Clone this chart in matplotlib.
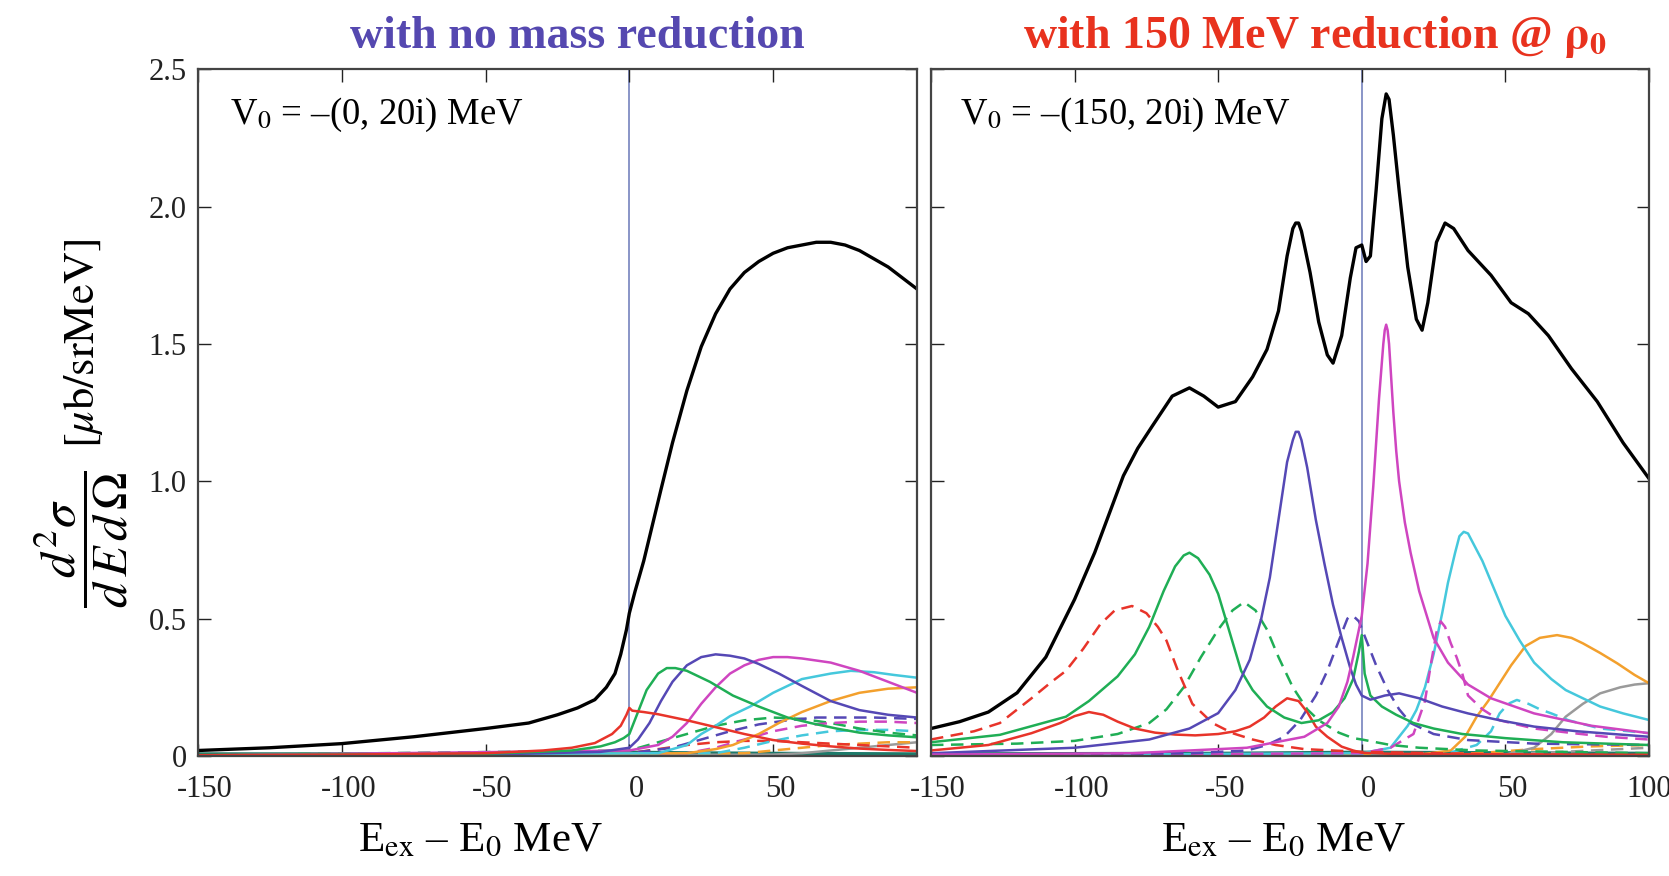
import matplotlib

matplotlib.use("Agg")

import matplotlib.pyplot as plt
from matplotlib.transforms import ScaledTranslation

# ---- left panel: V0 = -(0, 20i) MeV, no mass reduction ----
left_total_x = [-150, -125, -100, -75, -50, -35, -25, -18, -12, -8, -5, -3, -1, 0, 2, 5, 8, 11, 15,
                20, 25, 30, 35, 40, 45, 50, 55, 60, 65, 70, 75, 80, 85, 90, 95, 100]
left_total_y = [0.02, 0.03, 0.045, 0.07, 0.10, 0.12, 0.15, 0.175, 0.205, 0.25, 0.30, 0.37, 0.46, 0.52,
                0.60, 0.71, 0.84, 0.97, 1.14, 1.33, 1.49, 1.61, 1.70, 1.76, 1.80, 1.83, 1.85, 1.86,
                1.87, 1.87, 1.86, 1.84, 1.81, 1.78, 1.74, 1.70]

left_red_x = [-150, -100, -50, -30, -20, -12, -6, -3, -1, 0, 1, 5, 10, 20, 30, 40, 50, 60, 70, 80, 90, 100]
left_red_y = [0.003, 0.005, 0.01, 0.02, 0.03, 0.047, 0.08, 0.11, 0.15, 0.175, 0.165, 0.16, 0.152, 0.13,
              0.105, 0.08, 0.058, 0.045, 0.035, 0.027, 0.022, 0.018]

left_green_x = [-150, -50, -20, -10, -5, -2, 0, 3, 6, 10, 13, 16, 20, 28, 36, 45, 55, 63, 72, 80, 90, 100]
left_green_y = [0.003, 0.008, 0.02, 0.035, 0.05, 0.065, 0.08, 0.16, 0.24, 0.30, 0.32, 0.32, 0.31, 0.27,
                0.22, 0.18, 0.14, 0.12, 0.10, 0.085, 0.075, 0.068]

left_blue_x = [-150, -50, -10, 0, 3, 7, 11, 15, 20, 25, 30, 35, 40, 45, 52, 60, 70, 80, 90, 100]
left_blue_y = [0.002, 0.005, 0.015, 0.03, 0.06, 0.12, 0.20, 0.27, 0.33, 0.36, 0.37, 0.365, 0.355, 0.335,
               0.30, 0.255, 0.20, 0.167, 0.15, 0.14]

left_magenta_x = [-150, 0, 10, 15, 20, 25, 30, 35, 40, 45, 50, 55, 60, 70, 80, 90, 100]
left_magenta_y = [0.002, 0.02, 0.04, 0.07, 0.12, 0.19, 0.25, 0.30, 0.33, 0.35, 0.36, 0.36, 0.355, 0.34,
                  0.31, 0.27, 0.23]

left_cyan_x = [-150, 10, 20, 25, 30, 35, 42, 50, 60, 70, 77, 85, 92, 100]
left_cyan_y = [0.002, 0.01, 0.04, 0.08, 0.11, 0.145, 0.18, 0.23, 0.28, 0.30, 0.31, 0.305, 0.295, 0.285]

left_orange_x = [-150, 20, 30, 36, 45, 52, 60, 70, 80, 90, 100]
left_orange_y = [0.001, 0.01, 0.025, 0.04, 0.08, 0.12, 0.16, 0.20, 0.23, 0.245, 0.25]

left_gray_x = [-150, 50, 60, 70, 80, 90, 100]
left_gray_y = [0.001, 0.005, 0.01, 0.02, 0.03, 0.04, 0.05]

left_teal_x = [-150, -100, -50, -20, 0, 20, 50, 100]
left_teal_y = [0.006, 0.006, 0.007, 0.009, 0.012, 0.01, 0.008, 0.006]

left_blue_dash_x = [-150, 0, 15, 25, 35, 45, 55, 65, 75, 85, 100]
left_blue_dash_y = [0.002, 0.01, 0.03, 0.06, 0.09, 0.115, 0.13, 0.14, 0.14, 0.14, 0.135]

left_green_dash_x = [-150, 0, 10, 20, 30, 40, 50, 60, 70, 80, 90, 100]
left_green_dash_y = [0.003, 0.02, 0.05, 0.08, 0.11, 0.13, 0.14, 0.135, 0.12, 0.10, 0.085, 0.075]

left_magenta_dash_x = [-150, 20, 30, 40, 50, 60, 70, 80, 90, 100]
left_magenta_dash_y = [0.001, 0.01, 0.03, 0.06, 0.09, 0.11, 0.12, 0.125, 0.125, 0.12]

left_cyan_dash_x = [-150, 30, 40, 50, 60, 70, 80, 90, 100]
left_cyan_dash_y = [0.001, 0.01, 0.03, 0.055, 0.075, 0.09, 0.095, 0.095, 0.09]

left_red_dash_x = [-150, 0, 10, 20, 30, 40, 50, 60, 70, 80, 90, 100]
left_red_dash_y = [0.002, 0.01, 0.025, 0.04, 0.05, 0.055, 0.055, 0.05, 0.045, 0.04, 0.035, 0.03]

left_orange_dash_x = [-150, 40, 50, 60, 70, 80, 90, 100]
left_orange_dash_y = [0.001, 0.01, 0.02, 0.03, 0.04, 0.045, 0.05, 0.05]

# ---- right panel: V0 = -(150, 20i) MeV ----
right_total_x = [-150, -140, -130, -120, -110, -100, -93, -88, -83, -78, -73, -66, -60, -55, -50, -44,
                 -38, -33, -29, -26, -24, -23, -22, -21, -18, -15, -12, -10, -7, -4, -2, 0, 1.5, 3, 5,
                 7, 8.5, 9.5, 11, 13, 16, 19, 21, 23, 26, 29, 32, 37, 45, 52, 58, 65, 73, 82, 91, 100]
right_total_y = [0.10, 0.125, 0.16, 0.23, 0.36, 0.57, 0.74, 0.88, 1.02, 1.12, 1.20, 1.31, 1.34, 1.31,
                 1.27, 1.29, 1.38, 1.48, 1.62, 1.82, 1.92, 1.94, 1.94, 1.91, 1.76, 1.58, 1.46, 1.43,
                 1.53, 1.74, 1.85, 1.86, 1.80, 1.82, 2.06, 2.32, 2.41, 2.39, 2.26, 2.06, 1.78, 1.59,
                 1.55, 1.65, 1.87, 1.94, 1.92, 1.84, 1.75, 1.65, 1.61, 1.53, 1.41, 1.29, 1.14, 1.01]

right_red_dash_x = [-150, -135, -126, -115, -108, -103, -97, -91, -86, -80, -75, -71, -68, -64, -59,
                    -52, -45, -38, -30, -20, -10, 0, 50, 100]
right_red_dash_y = [0.06, 0.09, 0.12, 0.21, 0.27, 0.31, 0.39, 0.48, 0.53, 0.546, 0.52, 0.47, 0.42,
                    0.31, 0.19, 0.12, 0.083, 0.06, 0.04, 0.025, 0.02, 0.015, 0.006, 0.003]

right_green_x = [-150, -126, -103, -95, -85, -79, -74, -69, -65, -62, -60, -57, -53, -50, -46, -42,
                 -38, -33, -27, -21, -15, -10, -6, -3, -1, 0, 1, 3, 7, 12, 18, 25, 35, 50, 70, 100]
right_green_y = [0.05, 0.077, 0.143, 0.20, 0.29, 0.37, 0.47, 0.60, 0.69, 0.73, 0.74, 0.72, 0.66,
                 0.59, 0.45, 0.31, 0.24, 0.18, 0.14, 0.12, 0.13, 0.16, 0.21, 0.28, 0.38, 0.44, 0.30,
                 0.22, 0.18, 0.15, 0.12, 0.10, 0.08, 0.065, 0.05, 0.04]

right_green_dash_x = [-150, -120, -100, -85, -74, -68, -62, -56, -50, -45, -41, -37, -33, -29, -24,
                      -19, -15, -8, -3, 0, 5, 10, 20, 40, 70, 100]
right_green_dash_y = [0.04, 0.045, 0.055, 0.08, 0.12, 0.17, 0.25, 0.36, 0.46, 0.53, 0.56, 0.53, 0.46,
                      0.36, 0.25, 0.17, 0.13, 0.085, 0.065, 0.06, 0.05, 0.04, 0.03, 0.02, 0.015, 0.01]

right_red_x = [-150, -130, -115, -105, -100, -95, -90, -85, -79, -72, -65, -58, -50, -44, -39, -34,
               -30, -26, -22, -19, -16, -12, -7, -3, 0, 10, 40, 100]
right_red_y = [0.02, 0.04, 0.083, 0.12, 0.145, 0.16, 0.15, 0.125, 0.10, 0.085, 0.078, 0.075, 0.08,
               0.09, 0.107, 0.14, 0.18, 0.21, 0.20, 0.16, 0.107, 0.07, 0.034, 0.02, 0.012, 0.008,
               0.006, 0.004]

right_blue_x = [-150, -100, -74, -60, -50, -44, -39, -35, -32, -29, -26, -24, -23, -22, -21, -19, -16,
                -13, -10, -7, -4, -2, 0, 3, 8, 13, 20, 28, 37, 48, 60, 75, 100]
right_blue_y = [0.01, 0.03, 0.06, 0.10, 0.156, 0.24, 0.35, 0.50, 0.65, 0.86, 1.07, 1.15, 1.18, 1.18,
                1.15, 1.05, 0.86, 0.70, 0.55, 0.43, 0.32, 0.26, 0.22, 0.205, 0.22, 0.228, 0.21, 0.18,
                0.155, 0.13, 0.107, 0.09, 0.07]

right_blue_dash_x = [-150, -60, -40, -33, -27, -21.5, -16, -12, -8, -5, -4, -2.5, -1, 2, 5, 9, 13, 17,
                     25, 37, 60, 100]
right_blue_dash_y = [0.003, 0.01, 0.02, 0.04, 0.07, 0.13, 0.22, 0.31, 0.42, 0.50, 0.51, 0.505, 0.49,
                     0.41, 0.33, 0.24, 0.17, 0.12, 0.08, 0.058, 0.045, 0.04]

right_magenta_x = [-150, -80, -40, -20, -12, -8, -5, -3, 0, 2, 4, 6, 7.5, 8, 8.5, 9, 9.5, 11, 12, 13,
                   15, 17, 20, 25, 30, 37, 45, 60, 80, 100]
right_magenta_y = [0.005, 0.01, 0.03, 0.07, 0.12, 0.18, 0.27, 0.36, 0.51, 0.70, 0.98, 1.30, 1.50,
                   1.55, 1.57, 1.55, 1.50, 1.25, 1.11, 1.00, 0.85, 0.74, 0.60, 0.43, 0.34, 0.26, 0.21,
                   0.155, 0.11, 0.083]

right_magenta_dash_x = [-150, 0, 10, 18, 22, 24, 26, 27.5, 29, 31, 33, 35, 37, 42, 48, 60, 72, 85, 100]
right_magenta_dash_y = [0.002, 0.01, 0.03, 0.08, 0.20, 0.33, 0.45, 0.49, 0.47, 0.41, 0.36, 0.30, 0.22,
                        0.17, 0.13, 0.10, 0.085, 0.07, 0.06]

right_cyan_x = [-150, 0, 10, 13, 16, 19, 22, 25, 28, 30, 32.5, 34, 35.5, 37, 38, 42, 46, 50, 55, 60,
                66, 71, 77, 83, 91, 100]
right_cyan_y = [0.002, 0.01, 0.03, 0.07, 0.11, 0.167, 0.25, 0.37, 0.52, 0.63, 0.74, 0.80, 0.816, 0.81,
                0.79, 0.71, 0.61, 0.51, 0.42, 0.34, 0.28, 0.24, 0.21, 0.18, 0.155, 0.131]

right_cyan_dash_x = [-150, 30, 40, 45, 48, 51, 54, 58, 62, 66, 72, 83, 100]
right_cyan_dash_y = [0.001, 0.01, 0.04, 0.09, 0.155, 0.19, 0.204, 0.19, 0.17, 0.155, 0.13, 0.10, 0.083]

right_orange_x = [-150, 20, 31, 36, 40, 44, 48, 52, 57, 62, 68, 73, 77, 83, 89, 95, 100]
right_orange_y = [0.001, 0.005, 0.02, 0.07, 0.143, 0.20, 0.265, 0.33, 0.40, 0.43, 0.44, 0.43, 0.41,
                  0.375, 0.337, 0.295, 0.265]

right_gray_x = [-150, 50, 60, 66, 71, 77, 83, 90, 95, 100]
right_gray_y = [0.001, 0.005, 0.03, 0.08, 0.143, 0.19, 0.228, 0.25, 0.26, 0.265]

right_orange_dash_x = [-150, 40, 60, 80, 100]
right_orange_dash_y = [0.001, 0.01, 0.025, 0.035, 0.04]

right_gray_dash_x = [-150, 60, 80, 100]
right_gray_dash_y = [0.001, 0.01, 0.02, 0.03]

right_teal_x = [-150, -100, -50, 0, 50, 100]
right_teal_y = [0.006, 0.007, 0.008, 0.012, 0.01, 0.008]

x_ticks = [-150, -100, -50, 0, 50, 100]
y_ticks = [0, 0.5, 1.0, 1.5, 2.0, 2.5]
y_tick_labels = ["0", "0.5", "1.0", "1.5", "2.0", "2.5"]

RED = "#e8342a"
GREEN = "#1fae55"
BLUE = "#5548b5"
MAGENTA = "#cf45c0"
CYAN = "#45c8dc"
ORANGE = "#f3a02d"
GRAY = "#9a9a9a"
TEAL = "#1d7a6a"
THRESHOLD = "#6a78b8"
DASH = (0, (5, 3))


def style_axes(ax, tick_values):
    ax.set_xlim(-150, 100)
    ax.set_ylim(0, 2.5)
    ax.set_xticks(tick_values)
    ax.set_xticklabels([str(v) for v in tick_values])
    ax.set_yticks(y_ticks)
    ax.tick_params(direction="in", top=True, right=True, length=9, width=1.0,
                   labelsize=22, colors="#222222")
    ax.tick_params(axis="x", pad=14)
    ax.tick_params(axis="y", pad=8)
    for spine in ax.spines.values():
        spine.set_linewidth(1.6)
        spine.set_color("#444444")
    ax.axvline(0, color=THRESHOLD, lw=1.1, zorder=1)

    # the printed labels sit a little right of their ticks (not the last one at the edge)
    shift = ScaledTranslation(0.07, 0, ax.figure.dpi_scale_trans)
    for value, label in zip(tick_values, ax.get_xticklabels()):
        if value < 100:
            label.set_transform(label.get_transform() + shift)


def draw_left(ax):
    lw = 1.8
    ax.plot(left_teal_x, left_teal_y, color=TEAL, lw=3)
    ax.plot(left_gray_x, left_gray_y, color=GRAY, lw=lw)
    ax.plot(left_orange_dash_x, left_orange_dash_y, color=ORANGE, lw=lw, ls=DASH)
    ax.plot(left_red_dash_x, left_red_dash_y, color=RED, lw=lw, ls=DASH)
    ax.plot(left_cyan_dash_x, left_cyan_dash_y, color=CYAN, lw=lw, ls=DASH)
    ax.plot(left_green_dash_x, left_green_dash_y, color=GREEN, lw=lw, ls=DASH)
    ax.plot(left_magenta_dash_x, left_magenta_dash_y, color=MAGENTA, lw=lw, ls=DASH)
    ax.plot(left_blue_dash_x, left_blue_dash_y, color=BLUE, lw=lw, ls=DASH)
    ax.plot(left_orange_x, left_orange_y, color=ORANGE, lw=lw)
    ax.plot(left_cyan_x, left_cyan_y, color=CYAN, lw=lw)
    ax.plot(left_magenta_x, left_magenta_y, color=MAGENTA, lw=lw)
    ax.plot(left_blue_x, left_blue_y, color=BLUE, lw=lw)
    ax.plot(left_green_x, left_green_y, color=GREEN, lw=lw)
    ax.plot(left_red_x, left_red_y, color=RED, lw=lw)
    ax.plot(left_total_x, left_total_y, color="black", lw=2.4)

    style_axes(ax, x_ticks[:-1])
    ax.set_yticklabels(y_tick_labels)
    ax.text(0.045, 0.962, r"V$_0$ = –(0, 20i) MeV", transform=ax.transAxes,
            fontsize=26.5, va="top", ha="left")


def draw_right(ax):
    lw = 1.8
    ax.plot(right_teal_x, right_teal_y, color=TEAL, lw=3)
    ax.plot(right_gray_dash_x, right_gray_dash_y, color=GRAY, lw=lw, ls=DASH)
    ax.plot(right_orange_dash_x, right_orange_dash_y, color=ORANGE, lw=lw, ls=DASH)
    ax.plot(right_gray_x, right_gray_y, color=GRAY, lw=lw)
    ax.plot(right_orange_x, right_orange_y, color=ORANGE, lw=lw)
    ax.plot(right_cyan_dash_x, right_cyan_dash_y, color=CYAN, lw=lw, ls=DASH)
    ax.plot(right_cyan_x, right_cyan_y, color=CYAN, lw=lw)
    ax.plot(right_magenta_dash_x, right_magenta_dash_y, color=MAGENTA, lw=lw, ls=DASH)
    ax.plot(right_blue_dash_x, right_blue_dash_y, color=BLUE, lw=lw, ls=DASH)
    ax.plot(right_green_dash_x, right_green_dash_y, color=GREEN, lw=lw, ls=DASH)
    ax.plot(right_red_dash_x, right_red_dash_y, color=RED, lw=lw, ls=DASH)
    ax.plot(right_red_x, right_red_y, color=RED, lw=lw)
    ax.plot(right_green_x, right_green_y, color=GREEN, lw=lw)
    ax.plot(right_blue_x, right_blue_y, color=BLUE, lw=lw)
    ax.plot(right_magenta_x, right_magenta_y, color=MAGENTA, lw=lw)
    ax.plot(right_total_x, right_total_y, color="black", lw=2.4)

    style_axes(ax, x_ticks)
    ax.set_yticklabels([])
    ax.text(0.04, 0.962, r"V$_0$ = –(150, 20i) MeV", transform=ax.transAxes,
            fontsize=26.5, va="top", ha="left")


def main():
    plt.rcParams["font.family"] = ["Liberation Serif", "DejaVu Serif"]
    plt.rcParams["mathtext.fontset"] = "stix"

    fig = plt.figure(figsize=(16.69, 8.76), dpi=100)
    ax_left = fig.add_axes([0.1186, 0.137, 0.4308, 0.784])
    ax_right = fig.add_axes([0.5578, 0.137, 0.4302, 0.784])

    draw_left(ax_left)
    draw_right(ax_right)

    fig.text(0.346, 0.958, "with no mass reduction", color="#5548b0", fontsize=33,
             fontweight="bold", ha="center", va="center")
    fig.text(0.788, 0.958, r"with 150 MeV reduction @ $\mathbf{\rho_0}$", color="#e8321e",
             fontsize=33, fontweight="bold", ha="center", va="center")

    fig.text(0.288, 0.04, r"E$_{\rm ex}$ – E$_0$ MeV", fontsize=31, ha="center", va="center")
    fig.text(0.769, 0.04, r"E$_{\rm ex}$ – E$_0$ MeV", fontsize=31, ha="center", va="center")

    # y label: fraction followed by the unit in brackets
    fig.text(0.049, 0.385, r"$\dfrac{d^2\sigma}{d\,E\,d\,\Omega}$", fontsize=36,
             rotation=90, ha="center", va="center")
    fig.text(0.050, 0.608, r"$[\mu\mathrm{b/srMeV}]$", fontsize=32,
             rotation=90, ha="center", va="center")

    fig.savefig("out.png", dpi=100)
    plt.close(fig)


if __name__ == "__main__":
    main()
